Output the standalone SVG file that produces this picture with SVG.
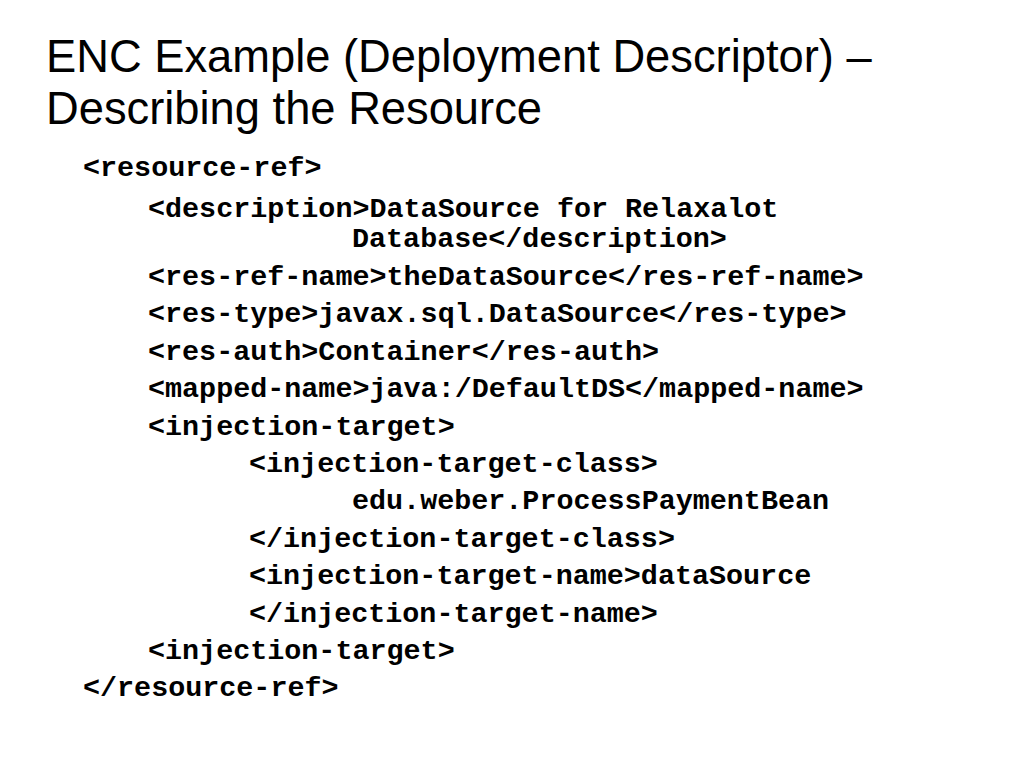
<svg xmlns="http://www.w3.org/2000/svg" width="1024" height="768" viewBox="0 0 1024 768">
<style>
.t{font-family:"Liberation Sans",Arial,sans-serif;font-size:45.3px;fill:#000}
.c{font-family:"Liberation Mono","Courier New",monospace;font-weight:bold;font-size:28.4px;fill:#000}
</style>
<rect width="1024" height="768" fill="#fff"/>
<g id="title">
<text class="t" x="46" y="72">ENC Example (Deployment Descriptor) –</text>
<text class="t" x="46" y="124">Describing the Resource</text>
</g>
<g id="code">
<text class="c" x="83" y="176">&lt;resource-ref&gt;</text>
<text class="c" x="148" y="217">&lt;description&gt;DataSource for Relaxalot</text>
<text class="c" x="352" y="247">Database&lt;/description&gt;</text>
<text class="c" x="148" y="285">&lt;res-ref-name&gt;theDataSource&lt;/res-ref-name&gt;</text>
<text class="c" x="148" y="322.4">&lt;res-type&gt;javax.sql.DataSource&lt;/res-type&gt;</text>
<text class="c" x="148" y="359.8">&lt;res-auth&gt;Container&lt;/res-auth&gt;</text>
<text class="c" x="148" y="397.2">&lt;mapped-name&gt;java:/DefaultDS&lt;/mapped-name&gt;</text>
<text class="c" x="148" y="434.6">&lt;injection-target&gt;</text>
<text class="c" x="249" y="472">&lt;injection-target-class&gt;</text>
<text class="c" x="352" y="509.4">edu.weber.ProcessPaymentBean</text>
<text class="c" x="249" y="546.8">&lt;/injection-target-class&gt;</text>
<text class="c" x="249" y="584.2">&lt;injection-target-name&gt;dataSource</text>
<text class="c" x="249" y="621.6">&lt;/injection-target-name&gt;</text>
<text class="c" x="148" y="659">&lt;injection-target&gt;</text>
<text class="c" x="83" y="696.4">&lt;/resource-ref&gt;</text>
</g>
</svg>
